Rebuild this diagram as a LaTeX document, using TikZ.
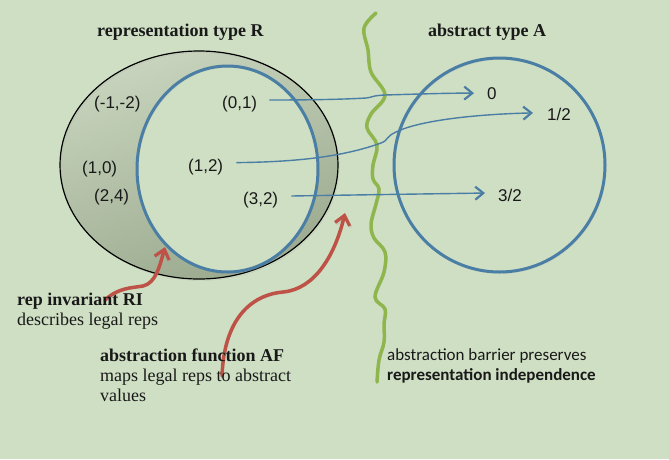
\documentclass[tikz,border=0pt]{standalone}
\usepackage{fontspec}
\setmainfont{Liberation Serif}
\setsansfont{Liberation Sans}
\newfontfamily\calib{Carlito}
\usetikzlibrary{arrows.meta,calc}
\definecolor{bg}{RGB}{207,223,196}
\definecolor{myblue}{RGB}{74,126,164}
\definecolor{myred}{RGB}{190,82,70}
\definecolor{mygreen}{RGB}{143,182,76}
\definecolor{elltop}{RGB}{200,212,189}
\definecolor{ellbot}{RGB}{155,170,143}
\definecolor{txt}{RGB}{25,25,25}
\begin{document}
\begin{tikzpicture}[x=1pt,y=-1pt,
  lbl/.style={font=\sffamily\fontsize{17}{20}\selectfont, inner sep=0pt, anchor=base west, text=txt},
  ttl/.style={font=\bfseries\fontsize{18}{21}\selectfont, inner sep=0pt, anchor=base west, text=txt},
  desc/.style={font=\fontsize{18}{20}\selectfont, inner sep=0pt, anchor=base west, align=left, text=txt},
  bdesc/.style={font=\calib\fontsize{17}{20}\selectfont, inner sep=0pt, anchor=base west, align=left, text=txt},
  barrow/.style={draw=myblue, line width=1.4pt, -{Straight Barb[length=8pt,width=13pt,line width=2.2pt]}},
  rarrow/.style={draw=myred, line width=3.5pt, line cap=round, -{Straight Barb[length=9pt,width=15pt,line width=3.2pt]}},
  shadowed/.style={preaction={draw=black!35, opacity=0.35, transform canvas={shift={(1.2pt,-1.5pt)}}}}
]
\useasboundingbox (0,0) rectangle (669,459);
\fill[bg] (0,0) rectangle (669,459);

% representation ellipse
\path[top color=elltop, bottom color=ellbot, shading angle=20] (199,165) ellipse [x radius=139, y radius=114];
\draw[black, line width=1.2pt, shadowed] (199,165) ellipse [x radius=139, y radius=114];
\fill[bg] (227.5,169) ellipse [x radius=90.5, y radius=103];
\draw[myblue, line width=3pt, shadowed] (227.5,169) ellipse [x radius=90.5, y radius=103];

% abstract circle
\draw[myblue, line width=3pt, shadowed] (499.5,165) ellipse [x radius=105.5, y radius=107];

% titles
\node[ttl] (tR) at (97,36.5) {representation type R};
\node[ttl] (tA) at (428,36.5) {abstract type A};

% rep labels
\node[lbl] (rm12) at (94,108) {(-1,-2)};
\node[lbl] (r01) at (222,108) {(0,1)};
\node[lbl] (r10) at (82,173) {(1,0)};
\node[lbl] (r12) at (188,171) {(1,2)};
\node[lbl] (r24) at (94,201) {(2,4)};
\node[lbl] (r32) at (243,204) {(3,2)};

% abstract values
\node[lbl] (v0) at (487,99) {0};
\node[lbl] (v12) at (547,120.5) {1/2};
\node[lbl] (v32) at (498,201.5) {3/2};

% green barrier
\draw[mygreen, line width=3.5pt, line cap=round, shadowed] plot[smooth, tension=0.6] coordinates {
 (376,13) (364,28) (368,50) (371,72) (385,95) (371,114) (367,128) (377,145) (373,165) (373,179)
 (379,189) (376,204) (371,224) (374,238) (385,252) (384,272) (375,297) (385,309) (384,324)
 (384,342) (379,360) (377,382)};

% mapping arrows
\draw[barrow] ($(r01.east)+(12,-3.6)$) .. controls (320,100) and (350,99) .. (366,98)
  .. controls (372,97.5) and (372,95.5) .. (385,95) .. controls (420,94) and (450,93) .. ($(v0.west)+(-13,0)$);
\draw[barrow] ($(r12.east)+(13,-4)$) .. controls (300,162) and (345,156) .. (381,143)
  .. controls (389,140) and (385,137) .. (396,132) .. controls (420,120) and (480,114) .. ($(v12.west)+(-14,-1.5)$);
\draw[barrow] ($(r32.east)+(13,-3.6)$) .. controls (350,195) and (420,194) .. ($(v32.west)+(-13,-2.4)$);

% red arrows
\coordinate (ri) at (105,300);
\coordinate (af) at (222,376);
\draw[rarrow, shadowed] (ri) .. controls (118,288) and (130,288) .. (143,286) .. controls (156,283) and (160,265) .. (165,247);
\draw[rarrow, shadowed] (af) .. controls (224,320) and (250,295) .. (283,292) .. controls (315,289) and (335,255) .. (345,213);

% descriptions
\node[desc] (dRI) at (17,325.5) {\textbf{rep invariant RI}\\describes legal reps};
\node[desc] (dAF) at (100,401.5) {\textbf{abstraction function AF}\\maps legal reps to abstract\\values};
\node[bdesc] (dAB) at (387,380) {abstraction barrier preserves\\\textbf{representation independence}};
\end{tikzpicture}
\end{document}
